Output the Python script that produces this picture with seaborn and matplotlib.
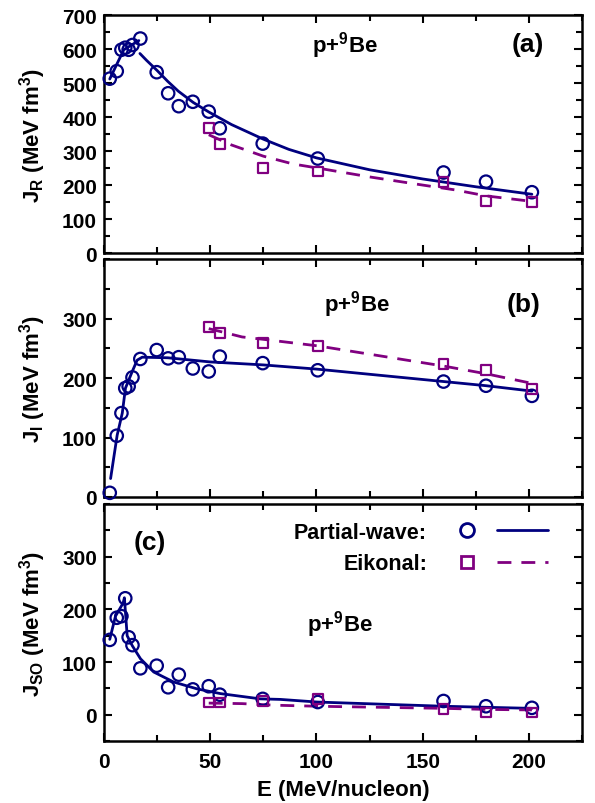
import matplotlib
matplotlib.use("Agg")
import matplotlib.pyplot as plt
import seaborn as sns
from matplotlib.ticker import MultipleLocator, FixedLocator, NullFormatter
from matplotlib.lines import Line2D
from matplotlib.legend_handler import HandlerTuple

# ---------------- data ----------------
# incident energies (MeV/nucleon)
E_pw = [2.7, 6.0, 8.2, 10.0, 11.6, 13.4, 17.1, 24.8, 30.2, 35.2, 41.8,
        49.3, 54.5, 74.7, 100.6, 159.8, 179.8, 201.4]
E_ek = [49.3, 54.5, 74.7, 100.6, 159.8, 179.8, 201.4]

# volume integrals, partial-wave (circles) and eikonal (squares)
JR_pw = [513, 535, 598, 604, 598, 612, 631, 532, 470, 432, 445,
         416, 367, 322, 278, 237, 210, 179]
JR_ek = [367, 322, 250, 240, 208, 153, 150]
JI_pw = [7, 103, 141, 183, 186, 201, 232, 247, 233, 235, 216,
         211, 236, 225, 213, 194, 187, 170]
JI_ek = [286, 275, 259, 254, 223, 213, 181]
JSO_pw = [142, 184, 187, 221, 147, 132, 88, 93, 52, 76, 48,
          54, 38, 30, 24, 26, 16, 13]
JSO_ek = [23, 23, 26, 29, 10, 4, 4]

# systematic curves
fitR_lo_E = [2.7, 9.3, 16.4]
fitR_lo_J = [512, 598, 625]
fitR_hi_E = [16.9, 20, 25, 30, 35, 42, 49.3, 60, 75, 87, 100, 125, 150, 175, 201.4]
fitR_hi_J = [587, 567, 537, 505, 476, 443, 415, 378, 335, 305, 280, 245, 218, 195, 173]
ekR_E = [49.3, 60, 75, 89, 100.6, 125, 150, 165, 180, 201.4]
ekR_J = [348, 318, 285, 262, 250, 224, 200, 186, 168, 152]

fitI_E = [3.1, 6.2, 8.6, 10.1, 13.3, 15.6, 18, 30, 50, 75, 100, 160, 180, 201.4]
fitI_J = [31, 104, 141, 183, 211, 230, 235, 234, 227, 222, 215, 194, 187, 178]
ekI_E = [49.3, 65, 75, 100.6, 160, 180, 201.4]
ekI_J = [283, 269, 265, 254, 220, 207, 191]

fitSO_E = [2.7, 5.4, 9.0, 9.6, 10.9, 13.3, 17.2, 23.4, 32.8, 43.8, 54.8,
           73.6, 83, 100.3, 130, 160, 180, 201.4]
fitSO_J = [143, 187, 212, 222, 150, 131, 106, 81, 62, 49, 40,
           30, 29, 24, 20, 16, 14, 12]
ekSO_E = [49.3, 65, 80, 100.6, 130, 160, 180, 201.4]
ekSO_J = [22, 21, 18, 16, 14, 12, 10, 9]

ylabels = ["J$_\\mathregular{R}$ (MeV fm$^\\mathregular{3}$)",
           "J$_\\mathregular{I}$ (MeV fm$^\\mathregular{3}$)",
           "J$_\\mathregular{SO}$ (MeV fm$^\\mathregular{3}$)"]
panel_tags = ["(a)", "(b)", "(c)"]
reaction = "p+$^\\mathregular{9}$Be"
xlabel = "E (MeV/nucleon)"
legend_labels = ["Partial-wave:", "Eikonal:"]

# ---------------- style ----------------
sns.set_theme(style="ticks")
FONT = "Liberation Sans"
plt.rcParams.update({
    "font.family": [FONT, "DejaVu Sans"],
    "font.weight": "bold",
    "mathtext.default": "regular",
    "axes.linewidth": 1.8,
    "axes.labelweight": "bold",
    "text.color": "black",
    "axes.labelcolor": "black",
    "axes.edgecolor": "black",
    "xtick.color": "black",
    "ytick.color": "black",
})
NAVY = "#00007f"
PURPLE = "#800080"
DASH = (0, (5.0, 3.6))

fig = plt.figure(figsize=(5.95, 8.04), dpi=100)
left, width, height = 0.1748, 0.8034, 0.296
axA = fig.add_axes([left, 0.684, width, height])
axB = fig.add_axes([left, 0.3806, width, height])
axC = fig.add_axes([left, 0.0771, width, 0.2948])


def curve(ax, E, J, color, dashed=False):
    sns.lineplot(x=E, y=J, ax=ax, color=color, lw=2.0, sort=False,
                 estimator=None, linestyle=DASH if dashed else "-")


def points(ax, E, J, color, marker, size):
    sns.scatterplot(x=E, y=J, ax=ax, marker=marker, s=size,
                    facecolor="none", edgecolor=color, linewidth=1.6,
                    clip_on=False, zorder=5)


# (a) real part
curve(axA, fitR_lo_E, fitR_lo_J, NAVY)
curve(axA, fitR_hi_E, fitR_hi_J, NAVY)
curve(axA, ekR_E, ekR_J, PURPLE, dashed=True)
points(axA, E_pw, JR_pw, NAVY, "o", 80)
points(axA, E_ek, JR_ek, PURPLE, "s", 50)

# (b) imaginary part
curve(axB, fitI_E, fitI_J, NAVY)
curve(axB, ekI_E, ekI_J, PURPLE, dashed=True)
points(axB, E_pw, JI_pw, NAVY, "o", 80)
points(axB, E_ek, JI_ek, PURPLE, "s", 50)

# (c) spin-orbit part
curve(axC, fitSO_E, fitSO_J, NAVY)
curve(axC, ekSO_E, ekSO_J, PURPLE, dashed=True)
points(axC, E_pw, JSO_pw, NAVY, "o", 80)
points(axC, E_ek, JSO_ek, PURPLE, "s", 50)

limits = [(0, 700), (0, 400), (-50, 400)]
majors = [list(range(0, 701, 100)), [0, 100, 200, 300], [0, 100, 200, 300]]

for ax, lab, lim, maj in zip([axA, axB, axC], ylabels, limits, majors):
    ax.set_xlim(0, 225)
    ax.set_ylim(*lim)
    ax.xaxis.set_major_locator(MultipleLocator(50))
    ax.xaxis.set_minor_locator(MultipleLocator(25))
    ax.yaxis.set_major_locator(FixedLocator(maj))
    ax.yaxis.set_minor_locator(MultipleLocator(50))
    ax.tick_params(which="both", direction="in", top=True, right=True,
                   width=1.5, labelsize=15, colors="black")
    ax.tick_params(which="major", length=6)
    ax.tick_params(which="minor", length=4)
    ax.tick_params(axis="y", pad=5)
    ax.tick_params(axis="x", pad=8)
    ax.set_ylabel(lab, fontsize=16, fontweight="bold", color="black")
    ax.yaxis.set_label_coords(-0.118, 0.5)
    ax.set_xlabel("")
    for t in ax.get_yticklabels():
        t.set_fontweight("bold")
    for s in ax.spines.values():
        s.set_linewidth(1.8)
        s.set_color("black")

for ax in (axA, axB):
    ax.xaxis.set_major_formatter(NullFormatter())

for t in axC.get_xticklabels():
    t.set_fontweight("bold")
axC.set_xlabel(xlabel, fontsize=16, fontweight="bold", labelpad=6, color="black")

# panel annotations
txt = dict(fontweight="bold", ha="center", va="center", color="black")
axA.text(0.887, 0.878, panel_tags[0], transform=axA.transAxes, fontsize=19, **txt)
axA.text(0.504, 0.878, reaction, transform=axA.transAxes, fontsize=16, **txt)
axB.text(0.877, 0.811, panel_tags[1], transform=axB.transAxes, fontsize=19, **txt)
axB.text(0.529, 0.811, reaction, transform=axB.transAxes, fontsize=16, **txt)
axC.text(0.096, 0.840, panel_tags[2], transform=axC.transAxes, fontsize=19, **txt)
axC.text(0.494, 0.494, reaction, transform=axC.transAxes, fontsize=16, **txt)

# legend: label, then marker, then line
h_pw = (Line2D([], [], marker="o", ls="", mfc="none", mec=NAVY, ms=10, mew=2),
        Line2D([], [], color=NAVY, lw=2.0))
h_ek = (Line2D([], [], marker="s", ls="", mfc="none", mec=PURPLE, ms=8.5, mew=2),
        Line2D([], [], color=PURPLE, lw=2.0, linestyle=DASH))
leg = axC.legend([h_pw, h_ek], legend_labels,
                 handler_map={tuple: HandlerTuple(ndivide=None, pad=0.23)},
                 markerfirst=False, frameon=False, loc="upper right",
                 bbox_to_anchor=(0.929, 0.925), borderaxespad=0, borderpad=0,
                 handlelength=4.97, handletextpad=0.65, labelspacing=0.48,
                 prop={"family": FONT, "weight": "bold", "size": 15.5})
for t in leg.get_texts():
    t.set_color("black")

fig.savefig("out.png", dpi=100)
